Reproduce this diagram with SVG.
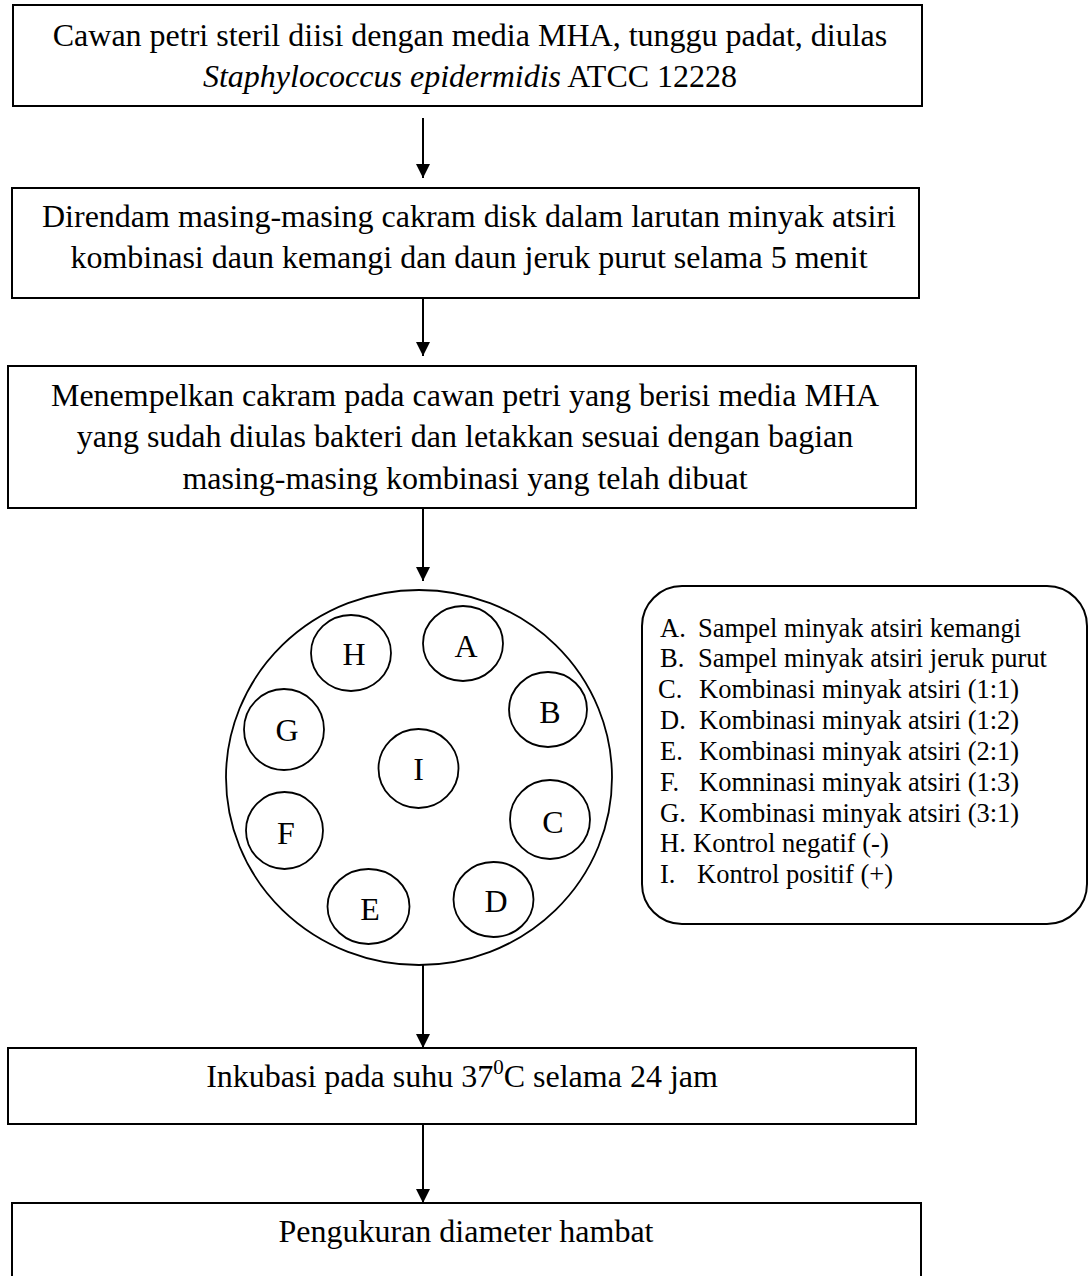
<svg xmlns="http://www.w3.org/2000/svg" width="1091" height="1276" viewBox="0 0 1091 1276">
<style>
.box{fill:#fff;stroke:#000;stroke-width:2}
.t{font-family:"Liberation Serif","Times New Roman",serif;font-size:32px;fill:#000}
.c{text-anchor:middle}
.lg{font-family:"Liberation Serif","Times New Roman",serif;font-size:26.5px;fill:#000}
.disk{fill:none;stroke:#000;stroke-width:1.8}
.ln{stroke:#000;stroke-width:2;fill:none}
</style>
<defs>
<marker id="ah" markerUnits="userSpaceOnUse" markerWidth="16" markerHeight="14" viewBox="0 0 16 14" refX="14" refY="7" orient="auto">
<path d="M0,0 L14,7 L0,14 Z" fill="#000"/>
</marker>
</defs>
<rect width="1091" height="1276" fill="#fff"/>
<g id="connectors">
<line class="ln" x1="423" y1="118" x2="423" y2="178" marker-end="url(#ah)"/>
<line class="ln" x1="423" y1="298" x2="423" y2="356" marker-end="url(#ah)"/>
<line class="ln" x1="423" y1="509" x2="423" y2="581" marker-end="url(#ah)"/>
<line class="ln" x1="423" y1="965" x2="423" y2="1048" marker-end="url(#ah)"/>
<line class="ln" x1="423" y1="1124" x2="423" y2="1203" marker-end="url(#ah)"/>
</g>
<g id="node1">
<rect class="box" x="13" y="5" width="909" height="101"/>
<text class="t c" x="470" y="46">Cawan petri steril diisi dengan media MHA, tunggu padat, diulas</text>
<text class="t c" x="470" y="87"><tspan font-style="italic">Staphylococcus epidermidis</tspan> ATCC 12228</text>
</g>
<g id="node2">
<rect class="box" x="12" y="188" width="907" height="110"/>
<text class="t c" x="469" y="227">Direndam masing-masing cakram disk dalam larutan minyak atsiri</text>
<text class="t c" x="469" y="268">kombinasi daun kemangi dan daun jeruk purut selama 5 menit</text>
</g>
<g id="node3">
<rect class="box" x="8" y="366" width="908" height="142"/>
<text class="t c" x="465" y="406">Menempelkan cakram pada cawan petri yang berisi media MHA</text>
<text class="t c" x="465" y="447">yang sudah diulas bakteri dan letakkan sesuai dengan bagian</text>
<text class="t c" x="465" y="489">masing-masing kombinasi yang telah dibuat</text>
</g>
<g id="petri">
<ellipse class="disk" cx="419" cy="777.5" rx="193" ry="187.5"/>
<g id="disk-A"><ellipse class="disk" cx="463" cy="643.5" rx="40" ry="37.5"/><text class="t c" x="466" y="657" font-size="30">A</text></g>
<g id="disk-B"><ellipse class="disk" cx="548" cy="709.5" rx="39" ry="37.5"/><text class="t c" x="550" y="723" font-size="30">B</text></g>
<g id="disk-C"><ellipse class="disk" cx="550" cy="819.5" rx="40" ry="39.5"/><text class="t c" x="553" y="833" font-size="30">C</text></g>
<g id="disk-D"><ellipse class="disk" cx="493.5" cy="899.5" rx="40" ry="37.5"/><text class="t c" x="496" y="912" font-size="30">D</text></g>
<g id="disk-E"><ellipse class="disk" cx="368.5" cy="906.5" rx="41" ry="37.5"/><text class="t c" x="370" y="920" font-size="30">E</text></g>
<g id="disk-F"><ellipse class="disk" cx="284.5" cy="830.5" rx="38.5" ry="38.5"/><text class="t c" x="286" y="844" font-size="30">F</text></g>
<g id="disk-G"><ellipse class="disk" cx="284" cy="729.5" rx="40" ry="40.5"/><text class="t c" x="287" y="741" font-size="30">G</text></g>
<g id="disk-H"><ellipse class="disk" cx="351" cy="653" rx="40" ry="38"/><text class="t c" x="354" y="665" font-size="30">H</text></g>
<g id="disk-I"><ellipse class="disk" cx="418.5" cy="768.5" rx="40" ry="39.5"/><text class="t c" x="418.5" y="780" font-size="30">I</text></g>
</g>
<g id="legend">
<rect x="642" y="586" width="445" height="338" rx="40" ry="40" fill="#fff" stroke="#000" stroke-width="2"/>
<text class="lg" x="660" y="637">A.</text><text class="lg" x="698" y="637">Sampel minyak atsiri kemangi</text>
<text class="lg" x="660" y="667">B.</text><text class="lg" x="698" y="667">Sampel minyak atsiri jeruk purut</text>
<text class="lg" x="658" y="698">C.</text><text class="lg" x="699" y="698">Kombinasi minyak atsiri (1:1)</text>
<text class="lg" x="660" y="729">D.</text><text class="lg" x="699" y="729">Kombinasi minyak atsiri (1:2)</text>
<text class="lg" x="660" y="760">E.</text><text class="lg" x="699" y="760">Kombinasi minyak atsiri (2:1)</text>
<text class="lg" x="660" y="791">F.</text><text class="lg" x="699" y="791">Komninasi minyak atsiri (1:3)</text>
<text class="lg" x="660" y="822">G.</text><text class="lg" x="699" y="822">Kombinasi minyak atsiri (3:1)</text>
<text class="lg" x="660" y="852">H.</text><text class="lg" x="693" y="852">Kontrol negatif (-)</text>
<text class="lg" x="660" y="883">I.</text><text class="lg" x="697" y="883">Kontrol positif (+)</text>
</g>
<g id="node4">
<rect class="box" x="8" y="1048" width="908" height="76"/>
<text class="t c" x="462" y="1087">Inkubasi pada suhu 37<tspan font-size="21" dy="-13">0</tspan><tspan dy="13">C selama 24 jam</tspan></text>
</g>
<g id="node5">
<rect class="box" x="12" y="1203" width="909" height="100"/>
<text class="t c" x="466" y="1242">Pengukuran diameter hambat</text>
</g>
</svg>
